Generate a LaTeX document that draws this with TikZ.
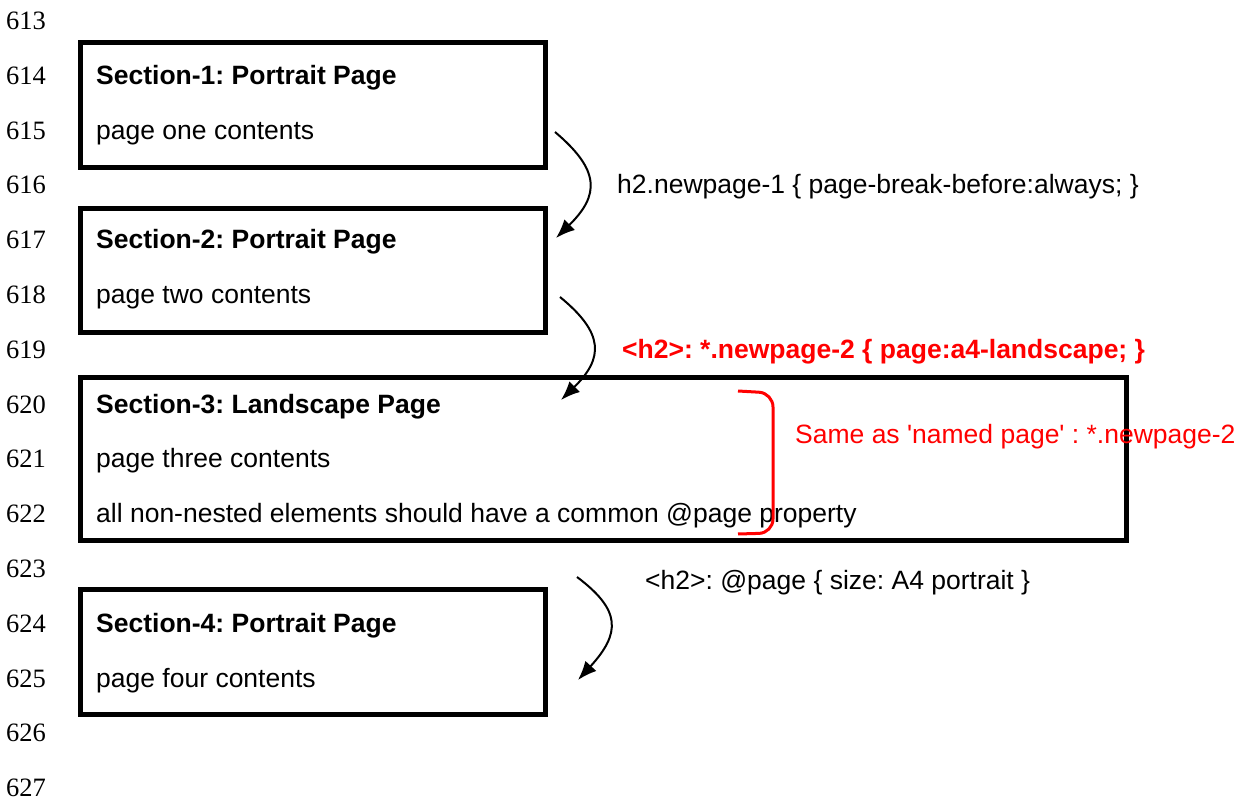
\documentclass[tikz,border=0pt]{standalone}
\usepackage{fontspec}
\setmainfont{Liberation Sans}
\newfontfamily\numfont{Liberation Serif}
\usepackage{tikz}
\usetikzlibrary{arrows.meta}
\frenchspacing

\begin{document}
\begin{tikzpicture}[x=1pt, y=-1pt, >={Latex[length=19pt,width=15pt]}]
    \tikzstyle{page} = [rectangle, draw, line width=5pt, anchor=north west, inner sep=0pt, outer sep=0pt]
    \tikzstyle{txt} = [anchor=base west, inner sep=0pt, font=\fontsize{26.5}{30}\selectfont]
    \tikzstyle{head} = [txt, font=\fontsize{26.5}{30}\selectfont\bfseries]
    \tikzstyle{lineno} = [anchor=base, inner sep=0pt, font=\fontsize{26.5}{30}\numfont]
    \tikzstyle{line} = [draw, line width=2pt, ->]

    \useasboundingbox (0,0) rectangle (1243,799);

    \foreach \n [count=\i from 0] in {613,...,627}
        \node [lineno] (n\n) at (26, 29.5+54.8*\i) {\n};

    \node [page, minimum width=465pt, minimum height=125pt] (page1) at (80,43) {};
    \node [page, minimum width=465pt, minimum height=124pt] (page2) at (80,209) {};
    \node [page, minimum width=1046pt, minimum height=162pt] (page3) at (80,378) {};
    \node [page, minimum width=465pt, minimum height=125pt] (page4) at (80,589) {};

    \node [head] (sec1) at (96,0 |- n614.base) {Section-1: Portrait Page};
    \node [txt] (body1) at (96,0 |- n615.base) {page one contents};
    \node [head] (sec2) at (96,0 |- n617.base) {Section-2: Portrait Page};
    \node [txt] (body2) at (96,0 |- n618.base) {page two contents};
    \node [head] (sec3) at (96,0 |- n620.base) {Section-3: Landscape Page};
    \node [txt] (body3) at (96,0 |- n621.base) {page three contents};
    \node [txt] (common) at (96,0 |- n622.base) {all non-nested elements should have a common @page property};
    \node [head] (sec4) at (96,0 |- n624.base) {Section-4: Portrait Page};
    \node [txt] (body4) at (96,0 |- n625.base) {page four contents};

    \node [txt] (rule1) at (617,0 |- n616.base) {h2.newpage-1 \{ page-break-before:always; \}};
    \node [head, text=red] (rule2) at (622,0 |- n619.base) {<h2>: *.newpage-2 \{ page:a4-landscape; \}};
    \node [txt, text=red] (same) at (795,443.5) {Same as \textquotesingle named page\textquotesingle\ : *.newpage-2};
    \node [txt] (rule3) at (645,589.5) {<h2>: @page \{ size: A4 portrait \}};

    \coordinate (a1s) at (555,132);
    \coordinate (a1e) at (556,238);
    \coordinate (a2s) at (560,297);
    \coordinate (a2e) at (561,400);
    \coordinate (a3s) at (577,577);
    \coordinate (a3e) at (578,680);

    \path [line] (a1s) .. controls (600,170) and (600,195) .. (a1e);
    \path [line] (a2s) .. controls (604,333) and (604,358) .. (a2e);
    \path [line] (a3s) .. controls (621,610) and (621,633) .. (a3e);

    \draw [red, line width=3pt, rounded corners=14pt] (738,391) -- (773,393) -- (773,533) -- (738,534);
\end{tikzpicture}
\end{document}
